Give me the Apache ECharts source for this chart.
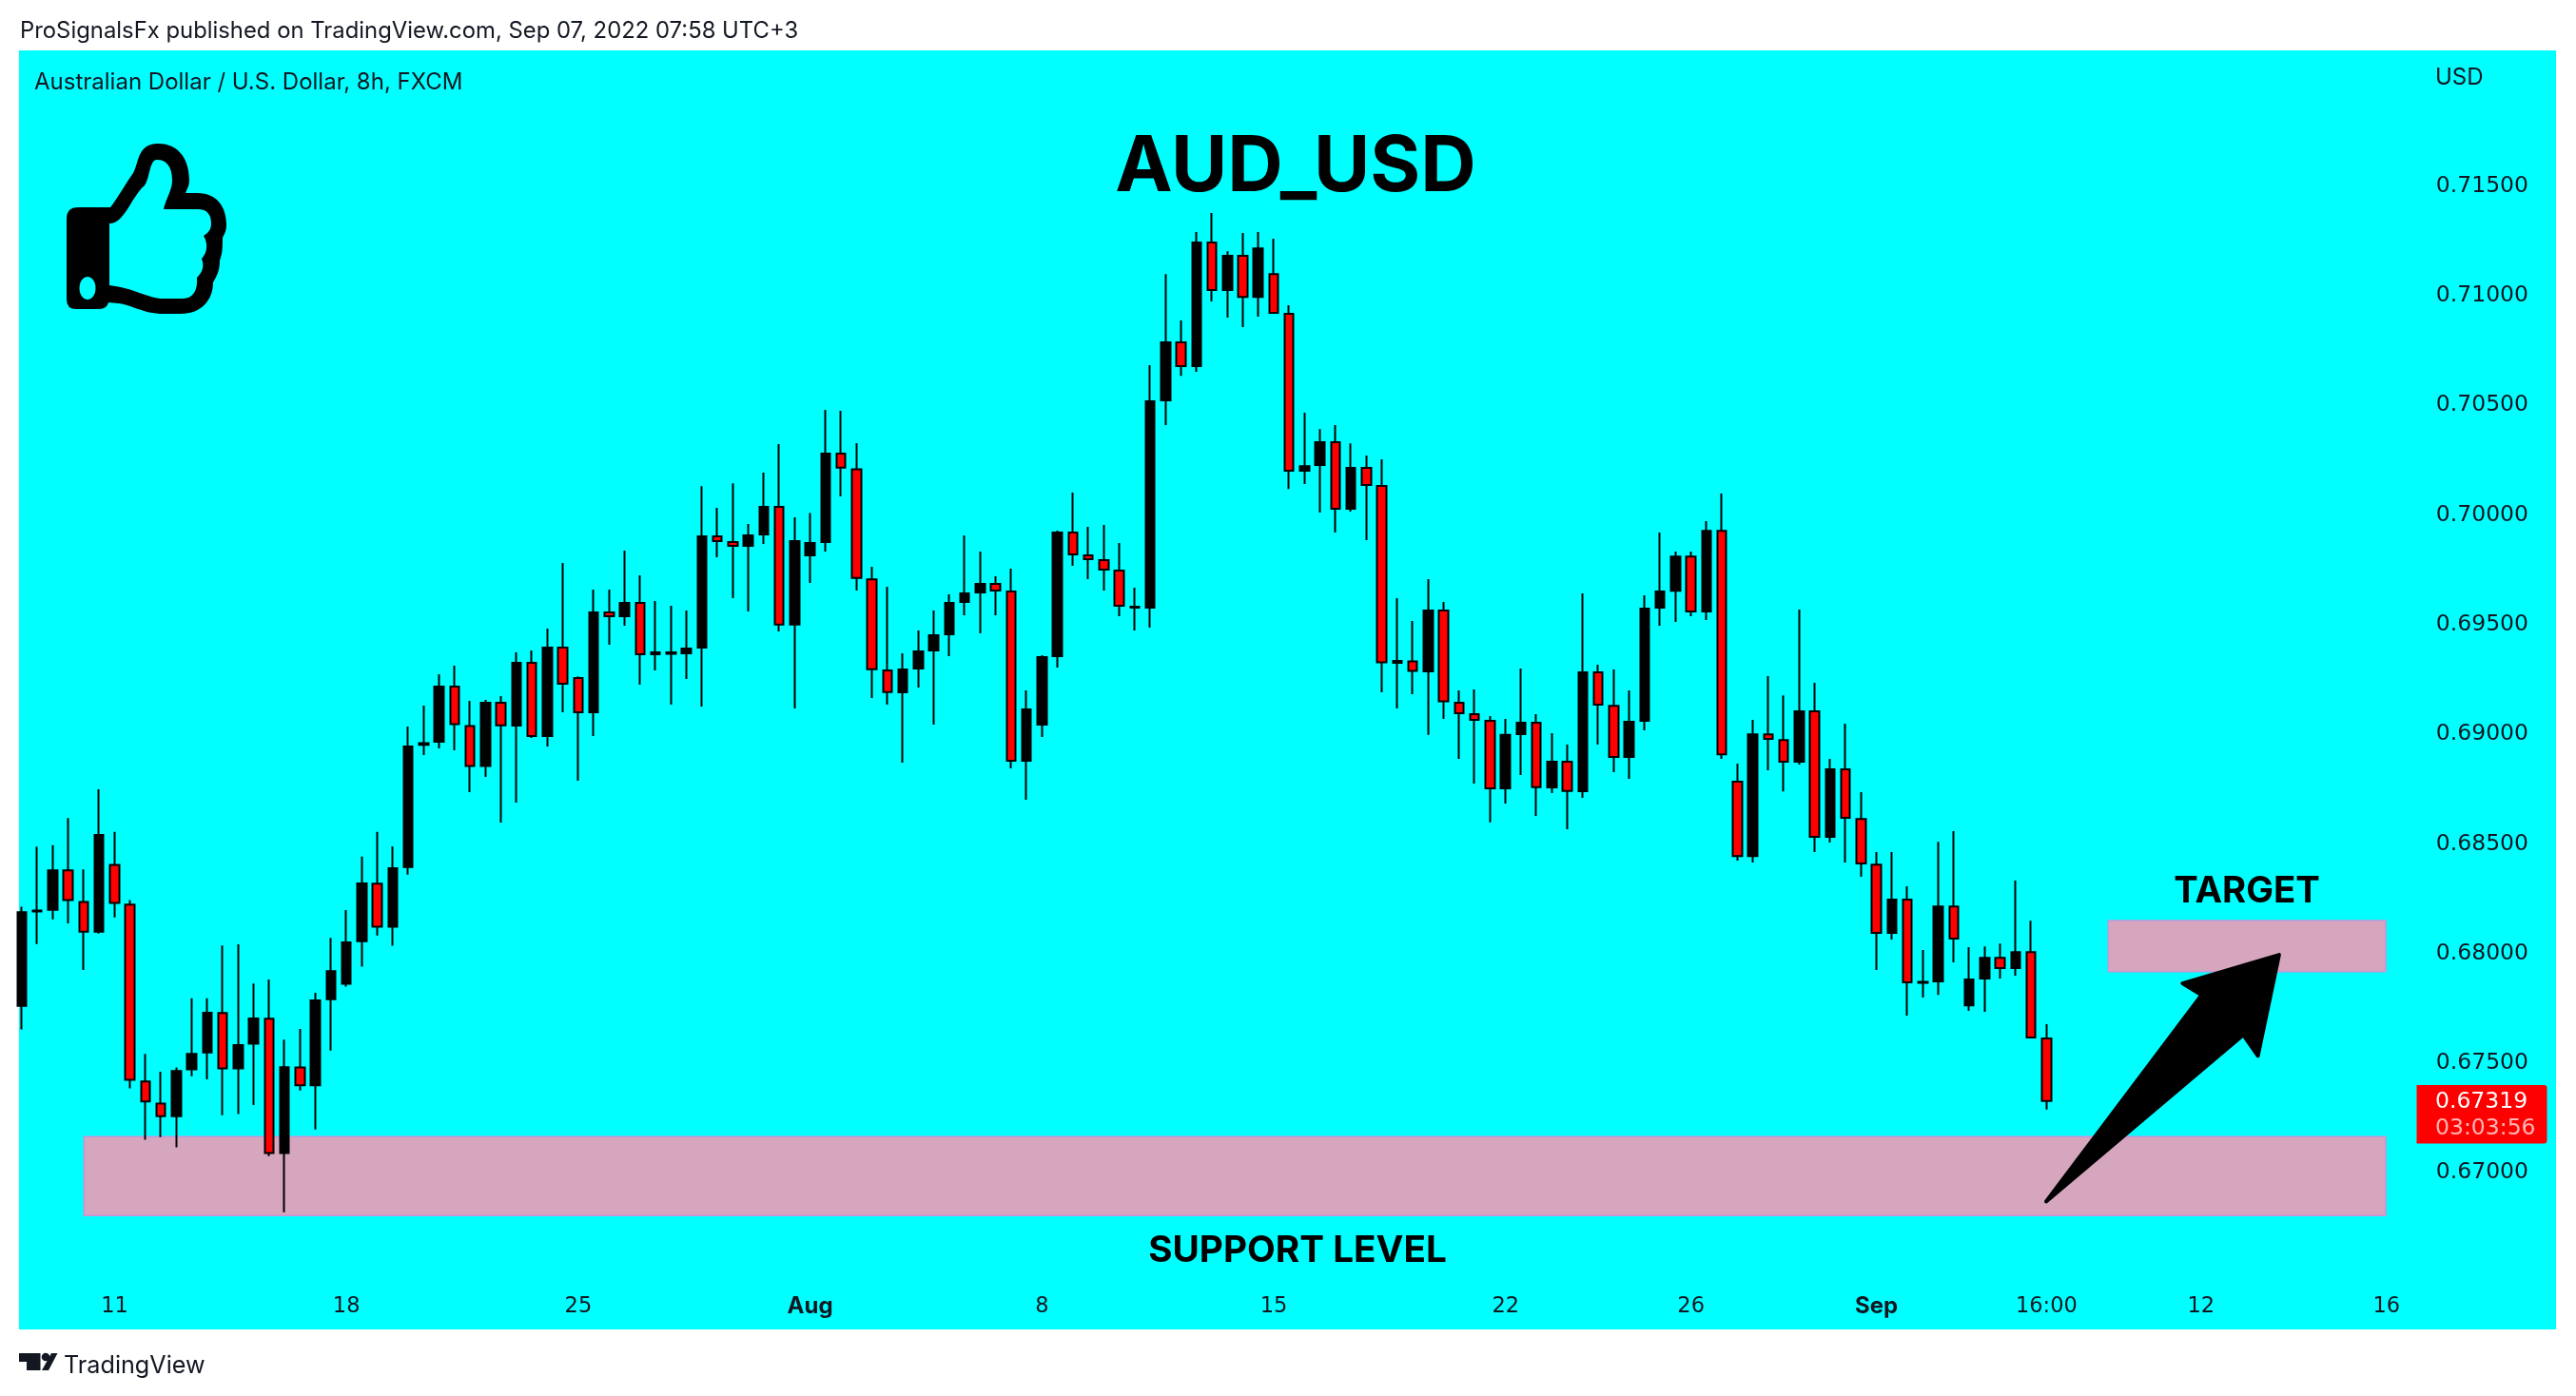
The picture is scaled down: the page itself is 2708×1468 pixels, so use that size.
<!DOCTYPE html>
<html><head><meta charset="utf-8">
<style>html,body{margin:0;padding:0;background:#fff}#c{width:2708px;height:1468px}</style>
<script src="https://cdn.jsdelivr.net/npm/echarts@6/dist/echarts.min.js"></script>
</head><body><div id="c"></div>
<script>
const opens=[0.67753,0.68183,0.68191,0.68371,0.68226,0.68091,0.68396,0.68214,0.67408,0.67307,0.67250,0.67463,0.67540,0.67720,0.67467,0.67580,0.67694,0.67081,0.67472,0.67390,0.67783,0.67853,0.68048,0.68310,0.68114,0.68386,0.68943,0.68957,0.69209,0.69029,0.68846,0.69135,0.69031,0.69317,0.68983,0.69386,0.69248,0.69092,0.69547,0.69530,0.69590,0.69356,0.69358,0.69360,0.69386,0.69894,0.69868,0.69850,0.69902,0.70028,0.69491,0.69807,0.69868,0.70271,0.70200,0.69697,0.69282,0.69183,0.69291,0.69373,0.69447,0.69595,0.69638,0.69677,0.69642,0.68870,0.69035,0.69347,0.69911,0.69807,0.69785,0.69738,0.69569,0.69569,0.70514,0.70778,0.70670,0.71234,0.71017,0.71173,0.70986,0.71090,0.70908,0.70193,0.70219,0.70323,0.70019,0.70206,0.70124,0.69317,0.69324,0.69278,0.69556,0.69135,0.69083,0.69053,0.68745,0.68992,0.69044,0.68749,0.68866,0.68732,0.69274,0.69121,0.68888,0.69053,0.69569,0.69646,0.69802,0.69551,0.69919,0.68775,0.68436,0.68991,0.68965,0.68866,0.69096,0.68523,0.68831,0.68605,0.68397,0.68085,0.68237,0.67858,0.67864,0.68206,0.67755,0.67877,0.67972,0.67925,0.67998,0.67604];
const closes=[0.68180,0.68187,0.68371,0.68235,0.68091,0.68532,0.68222,0.67415,0.67317,0.67250,0.67456,0.67534,0.67721,0.67467,0.67574,0.67695,0.67082,0.67473,0.67390,0.67777,0.67911,0.68042,0.68311,0.68114,0.68380,0.68935,0.68951,0.69209,0.69037,0.68846,0.69135,0.69032,0.69317,0.68983,0.69386,0.69222,0.69092,0.69547,0.69530,0.69590,0.69356,0.69365,0.69365,0.69382,0.69894,0.69872,0.69850,0.69898,0.70028,0.69491,0.69872,0.69863,0.70271,0.70207,0.69704,0.69288,0.69184,0.69287,0.69369,0.69443,0.69590,0.69634,0.69677,0.69647,0.68870,0.69105,0.69343,0.69911,0.69811,0.69790,0.69742,0.69577,0.69573,0.70510,0.70778,0.70670,0.71234,0.71017,0.71173,0.70986,0.71207,0.70913,0.70193,0.70214,0.70323,0.70019,0.70206,0.70128,0.69319,0.69326,0.69280,0.69556,0.69141,0.69087,0.69057,0.68745,0.68988,0.69044,0.68750,0.68866,0.68733,0.69274,0.69126,0.68888,0.69048,0.69564,0.69642,0.69802,0.69551,0.69919,0.68900,0.68436,0.68991,0.68970,0.68866,0.69096,0.68523,0.68831,0.68610,0.68402,0.68085,0.68237,0.67860,0.67862,0.68206,0.68059,0.67873,0.67972,0.67925,0.67998,0.67608,0.67319];
const lows=[0.67645,0.68034,0.68147,0.68129,0.67916,0.68082,0.68156,0.67376,0.67142,0.67154,0.67107,0.67432,0.67418,0.67254,0.67259,0.67301,0.67067,0.66812,0.67367,0.67189,0.67549,0.67840,0.67931,0.68074,0.68027,0.68351,0.68896,0.68927,0.68918,0.68727,0.68797,0.68588,0.68680,0.68974,0.68935,0.69092,0.68779,0.68983,0.69399,0.69486,0.69217,0.69282,0.69126,0.69243,0.69118,0.69798,0.69612,0.69551,0.69859,0.69460,0.69109,0.69681,0.69824,0.70076,0.69647,0.69157,0.69126,0.68862,0.69204,0.69035,0.69347,0.69534,0.69451,0.69534,0.68836,0.68693,0.68979,0.69295,0.69759,0.69699,0.69647,0.69530,0.69464,0.69477,0.70401,0.70626,0.70644,0.70965,0.70891,0.70848,0.70895,0.70910,0.70110,0.70132,0.70002,0.69911,0.70006,0.69876,0.69183,0.69109,0.69174,0.68988,0.69061,0.68879,0.68766,0.68589,0.68675,0.68805,0.68619,0.68723,0.68558,0.68701,0.68944,0.68818,0.68788,0.69009,0.69486,0.69503,0.69529,0.69512,0.68879,0.68415,0.68406,0.68827,0.68731,0.68853,0.68454,0.68497,0.68406,0.68341,0.67916,0.68055,0.67708,0.67790,0.67803,0.67951,0.67730,0.67725,0.67877,0.67890,0.67605,0.67280];
const highs=[0.68205,0.68479,0.68485,0.68609,0.68375,0.68740,0.68546,0.68235,0.67534,0.67452,0.67472,0.67787,0.67787,0.68028,0.68033,0.67855,0.67873,0.67599,0.67647,0.67812,0.68063,0.68190,0.68433,0.68546,0.68480,0.69026,0.69122,0.69265,0.69304,0.69144,0.69148,0.69165,0.69365,0.69373,0.69473,0.69772,0.69255,0.69651,0.69651,0.69829,0.69716,0.69599,0.69577,0.69556,0.70123,0.70024,0.70136,0.69950,0.70184,0.70314,0.69980,0.70000,0.70470,0.70466,0.70319,0.69755,0.69664,0.69360,0.69464,0.69555,0.69629,0.69898,0.69824,0.69712,0.69746,0.69191,0.69352,0.69920,0.70093,0.69937,0.69946,0.69863,0.69660,0.70674,0.71090,0.70878,0.71281,0.71368,0.71194,0.71277,0.71281,0.71251,0.70947,0.70457,0.70383,0.70401,0.70318,0.70262,0.70245,0.69612,0.69508,0.69699,0.69595,0.69191,0.69196,0.69074,0.69061,0.69291,0.69083,0.68996,0.68944,0.69634,0.69308,0.69287,0.69191,0.69625,0.69911,0.69824,0.69824,0.69963,0.70089,0.68857,0.69057,0.69256,0.69169,0.69560,0.69226,0.68879,0.69039,0.68727,0.68454,0.68454,0.68298,0.68007,0.68501,0.68549,0.68020,0.68024,0.68037,0.68324,0.68141,0.67669];
const priceTicks=[0.67,0.675,0.68,0.685,0.69,0.695,0.70,0.705,0.71,0.715];
const dateTickBars=[6,21,36,51,66,81,96,108,120,131,141,153];
const dateTickLabels=['11','18','25','Aug','8','15','22','26','Sep','16:00','12','16'];
const boldDateTicks=['Aug','Sep'];
const zones=[[4.02,152.95,0.66796,0.67156],[135,152.95,0.67909,0.68142]];
const arrowPoints=[[130.98,0.66861],[141.03,0.67802],[139.8,0.67855],[146.05,0.67985],[144.68,0.67525],[143.74,0.6762]];
const lastPrice='0.67319', countdown='03:03:56';

const FONT='Inter, "Noto Sans", sans-serif', NUM='"DejaVu Sans", sans-serif', INK='#131722';
const candles=opens.map((o,i)=>[i,o,closes[i],lows[i],highs[i]]);
const chart=echarts.init(document.getElementById('c'),null,{renderer:'canvas'});
function txt(x,y,text,size,opts){return {type:'text',x,y,z:50,style:Object.assign({text,fontFamily:FONT,fontSize:size,fill:INK,verticalAlign:'middle',align:'left'},opts||{})};}
const thumbOuter='M70 230Q70 218 82 218L116 218C124 208 134 190 140 182C146 172 144 151 166 151C190 151 199 170 199 190C199 195 197 198 195 203L208 203C228 203 238 218 238 236C238 243 236 246 234 250C234 260 234 266 231 274C231 285 228 290 224 297C224 315 212 330 190 330L172 330C150 330 138 320 124 319L114 318C113 322 110 325 104 325L80 325Q70 325 70 315Z';
const thumbInner='M115 235C124 235 128 228 134 220C140 210 146 200 152 195C158 186 157 168 165 168C175 168 181 175 181 190C181 200 174 210 172 220L208 220C218 220 222 226 222 235C222 241 219 245 214 248C219 256 218 266 212 272C215 280 213 286 207 292C208 305 203 314 192 314L172 314C155 314 142 303 115 300Z';
chart.setOption({
 animation:false,
 backgroundColor:'#ffffff',
 grid:{left:20,top:53,width:2667,height:1345,show:true,backgroundColor:'#00ffff',borderWidth:0},
 xAxis:{type:'value',min:-0.1846,max:163.97,
  axisLine:{show:false},axisTick:{show:false},splitLine:{show:false},
  axisLabel:{inside:true,margin:12,customValues:dateTickBars,color:INK,fontFamily:NUM,fontSize:22.5,
   formatter:v=>{const l=dateTickLabels[dateTickBars.indexOf(v)];return boldDateTicks.includes(l)?'{b|'+l+'}':l;},
   rich:{b:{fontWeight:'bold',fontFamily:FONT,fontSize:24,color:INK}}}},
 yAxis:{type:'value',position:'right',min:0.662771,max:0.721097,
  axisLine:{show:false},axisTick:{show:false},splitLine:{show:false},
  axisLabel:{inside:true,margin:29,verticalAlign:'top',lineHeight:4,customValues:priceTicks,color:INK,fontFamily:NUM,fontSize:23.5,formatter:v=>v.toFixed(5)}},
 series:[
  {type:'custom',z:1,silent:true,coordinateSystem:'cartesian2d',data:zones,encode:{x:[0,1],y:[2,3]},
   renderItem:(p,api)=>{const a=api.coord([api.value(0),api.value(3)]),b=api.coord([api.value(1),api.value(2)]);
    return {type:'rect',shape:{x:a[0],y:a[1],width:b[0]-a[0],height:b[1]-a[1]},style:{fill:'#d6a5be',stroke:'#c994d6',lineWidth:1.5}};}},
  {type:'candlestick',z:2,silent:true,data:candles,encode:{x:0,y:[1,2,3,4]},barWidth:10,
   itemStyle:{color:'#000000',color0:'#ff0000',borderColor:'#000000',borderColor0:'#000000',borderWidth:2}},
  {type:'custom',z:3,silent:true,coordinateSystem:'cartesian2d',data:arrowPoints,encode:{x:0,y:1},
   renderItem:(p,api)=>{if(p.dataIndex!==0)return null;
    return {type:'polygon',shape:{points:arrowPoints.map(q=>api.coord(q))},style:{fill:'#000',stroke:'#000',lineWidth:4,lineJoin:'round'}};}},
  {type:'custom',z:40,silent:true,coordinateSystem:'none',data:[[0]],
   renderItem:()=>({type:'group',children:[
    {type:'path',shape:{pathData:thumbOuter},style:{fill:'#000'}},
    {type:'path',shape:{pathData:thumbInner},style:{fill:'#00ffff'}},
    {type:'ellipse',shape:{cx:92,cy:303,rx:8.5,ry:12},style:{fill:'#00ffff'}}
   ]})}
 ],
 graphic:[
  txt(21,33,'ProSignalsFx published on TradingView.com, Sep 07, 2022 07:58 UTC+3',23.85),
  txt(36,87,'Australian Dollar / U.S. Dollar, 8h, FXCM',24),
  txt(2560,82,'USD',24),
  txt(1362,177,'AUD_USD',81,{align:'center',fontWeight:'bold',fill:'#000'}),
  txt(2362,937,'TARGET',38.3,{align:'center',fontWeight:'bold',fill:'#000'}),
  txt(1364,1315,'SUPPORT LEVEL',38.7,{align:'center',fontWeight:'bold',fill:'#000'}),
  {type:'rect',z:45,shape:{x:2540.5,y:1141,width:137,height:61.5,r:[0,3,3,0]},style:{fill:'#ff0000'}},
  txt(2560,1159,lastPrice,23.5,{fill:'#fff',fontFamily:NUM}),
  txt(2560,1187,countdown,23.5,{fill:'rgba(255,255,255,0.7)',fontFamily:NUM}),
  {type:'polygon',z:40,shape:{points:[[20,1423],[42.5,1423],[42.5,1441],[28,1441],[28,1432],[20,1432]]},style:{fill:INK}},
  {type:'circle',z:40,shape:{cx:48,cy:1427,r:4.3},style:{fill:INK}},
  {type:'polygon',z:40,shape:{points:[[54,1423],[60.5,1423],[51,1441],[44,1441]]},style:{fill:INK}},
  txt(67,1436,'TradingView',25.2)
 ]
});
</script></body></html>
